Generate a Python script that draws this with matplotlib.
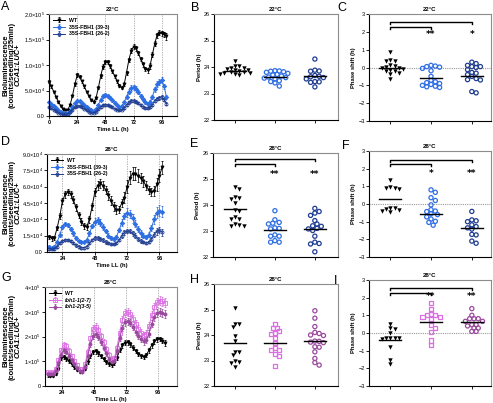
import numpy as np
import matplotlib.pyplot as plt

plt.rcParams['font.family'] = ['Liberation Sans', 'DejaVu Sans']
plt.rcParams['mathtext.fontset'] = 'custom'
plt.rcParams['mathtext.rm'] = 'Liberation Sans'
plt.rcParams['mathtext.bf'] = 'Liberation Sans:bold'

# ---------------- data ----------------
# time courses (values in units of 1e3 counts)
A_time = list(range(0, 101, 2))
A_wt = [67, 58, 48, 38, 28, 20, 14, 11, 12, 22, 40, 62, 80, 77, 68, 58, 48, 39, 31, 28,
        35, 55, 78, 97, 106, 105, 98, 88, 78, 68, 59, 55, 62, 85, 110, 128, 136, 133, 124, 112,
        101, 93, 90, 98, 120, 142, 158, 163, 162, 160, 156]
A_39 = [27, 24, 20, 16, 12, 8, 6, 5, 6, 10, 17, 25, 30, 29, 26, 22, 18, 14, 11, 10,
        13, 22, 32, 39, 41, 40, 36, 31, 26, 21, 18, 19, 27, 38, 48, 55, 56, 53, 47, 40,
        33, 27, 24, 28, 38, 52, 62, 66, 70, 58, 38]
A_26 = [17, 15, 12, 9, 6, 4, 3, 3, 4, 7, 12, 17, 20, 19, 17, 14, 11, 8, 6, 6,
        8, 13, 18, 21, 22, 21, 19, 17, 14, 12, 11, 12, 16, 22, 27, 30, 30, 28, 25, 21,
        18, 16, 15, 17, 22, 30, 34, 36, 38, 32, 24]
A_wt_err = [3, 3, 2, 2, 2, 2, 1, 1, 1, 2, 2, 3, 4, 3, 3, 3, 2, 2, 2, 2,
            2, 3, 4, 4, 4, 4, 4, 3, 3, 3, 3, 3, 3, 4, 4, 5, 5, 5, 4, 4,
            4, 4, 5, 5, 5, 5, 5, 5, 5, 5, 6]
A_39_err = [2, 2, 2, 1, 1, 1, 1, 1, 1, 1, 2, 2, 3, 3, 2, 2, 2, 2, 1, 1,
            2, 2, 3, 4, 4, 4, 3, 3, 3, 2, 2, 2, 3, 4, 5, 5, 5, 5, 4, 4,
            3, 3, 3, 3, 4, 5, 6, 6, 6, 5, 4]
A_26_err = [1, 1, 1, 1, 1, 1, 1, 1, 1, 1, 1, 1, 2, 2, 2, 1, 1, 1, 1, 1,
            1, 1, 2, 2, 2, 2, 2, 2, 1, 1, 1, 1, 2, 2, 3, 3, 3, 3, 2, 2,
            2, 2, 2, 2, 2, 3, 3, 4, 4, 3, 3]

D_time = list(range(14, 99, 2))
D_wt = [14, 12.5, 13, 22, 33, 47, 53, 55, 53, 48, 41, 34, 28, 24, 23, 30, 42, 55, 61, 63,
        61, 57, 52, 47, 42, 39, 39, 45, 50, 60, 68, 72, 72, 70, 68, 65, 61, 57, 55, 56,
        62, 70, 78]
D_39 = [5, 4, 5, 9, 16, 23, 26, 25, 21, 17, 13, 10, 9, 9, 11, 17, 24, 28, 29, 27,
        23, 19, 15, 13, 12, 14, 20, 27, 33, 36, 35, 31, 26, 21, 17, 15, 14, 16, 22, 30,
        36, 38, 37]
D_26 = [3, 2.5, 3, 5, 8, 10, 11, 11, 10, 8, 6, 5, 4, 4, 5, 8, 11, 13, 13, 12,
        11, 9, 8, 7, 7, 8, 11, 15, 18, 19, 19, 17, 15, 12, 10, 9, 8, 9, 12, 16,
        19, 20, 18]
D_wt_err = [2, 2, 2, 2, 3, 3, 3, 3, 3, 3, 3, 3, 3, 3, 3, 3, 3, 4, 4, 4,
            4, 4, 4, 4, 4, 4, 3, 4, 5, 6, 6, 6, 6, 6, 5, 5, 4, 4, 4, 5,
            6, 6, 6]
D_39_err = [1, 1, 1, 1, 2, 2, 2, 2, 2, 2, 2, 1, 1, 1, 1, 2, 2, 3, 3, 3,
            3, 2, 2, 2, 2, 2, 2, 3, 3, 4, 4, 4, 3, 3, 3, 2, 2, 2, 3, 4,
            5, 5, 5]
D_26_err = [1, 1, 1, 1, 1, 1, 1, 1, 1, 1, 1, 1, 1, 1, 1, 1, 1, 2, 2, 2,
            2, 2, 1, 1, 1, 1, 1, 2, 2, 2, 2, 2, 2, 2, 2, 1, 1, 1, 2, 2,
            3, 3, 3]

G_time = list(range(13, 102, 2))
G_wt = [43, 40, 40, 48, 70, 112, 118, 110, 100, 88, 75, 65, 58, 58, 70, 95, 122, 138, 140, 132,
        120, 108, 97, 88, 84, 92, 115, 145, 165, 175, 176, 168, 155, 142, 130, 122, 118, 125, 145, 165,
        180, 188, 190, 182, 174]
G_f1 = [55, 52, 55, 70, 105, 145, 165, 160, 142, 120, 100, 83, 70, 67, 88, 138, 192, 232, 240, 226,
        202, 176, 150, 126, 108, 112, 155, 215, 268, 294, 300, 292, 272, 252, 232, 216, 205, 210, 242, 285,
        318, 338, 345, 342, 336]
G_f2 = [50, 47, 50, 62, 92, 125, 145, 138, 122, 105, 88, 72, 60, 58, 78, 120, 168, 202, 210, 198,
        178, 155, 132, 110, 95, 102, 140, 192, 235, 258, 262, 255, 238, 220, 203, 190, 180, 185, 212, 252,
        280, 295, 300, 296, 290]
G_wt_err = [5, 5, 5, 5, 6, 8, 9, 9, 8, 7, 6, 6, 5, 5, 6, 7, 8, 9, 9, 9,
            8, 8, 7, 7, 7, 7, 8, 9, 10, 10, 10, 10, 9, 9, 9, 9, 9, 9, 10, 10,
            10, 10, 10, 10, 12]
G_f1_err = [6, 6, 6, 6, 8, 10, 12, 12, 11, 10, 9, 8, 7, 7, 8, 10, 12, 14, 14, 14,
            13, 12, 11, 10, 10, 10, 12, 14, 15, 16, 16, 16, 15, 15, 15, 15, 15, 15, 16, 18,
            18, 18, 18, 18, 18]
G_f2_err = [5, 5, 5, 5, 7, 9, 10, 10, 10, 9, 8, 7, 6, 6, 7, 9, 11, 12, 12, 12,
            11, 10, 10, 9, 9, 9, 11, 12, 13, 14, 14, 14, 13, 13, 13, 13, 13, 13, 14, 15,
            16, 16, 16, 16, 16]

A_yticks = [0, 5e4, 1e5, 1.5e5, 2e5]
A_ylabels = ['0.0', r'$5.0{\times}10^4$', r'$1.0{\times}10^5$', r'$1.5{\times}10^5$', r'$2.0{\times}10^5$']
D_yticks = [0, 1.5e4, 3e4, 4.5e4, 6e4, 7.5e4, 9e4]
D_ylabels = ['0.0', r'$1.5{\times}10^4$', r'$3.0{\times}10^4$', r'$4.5{\times}10^4$',
             r'$6.0{\times}10^4$', r'$7.5{\times}10^4$', r'$9.0{\times}10^4$']
G_yticks = [0, 1e5, 2e5, 3e5, 4e5]
G_ylabels = ['0', r'$1{\times}10^5$', r'$2{\times}10^5$', r'$3{\times}10^5$', r'$4{\times}10^5$']

# period / phase scatter data
B_wt = [24.22, 24.04, 24.02, 23.98, 23.95, 23.92, 23.9, 23.88, 23.85, 23.83, 23.8, 23.78, 23.76, 23.74, 23.72, 23.7]
B_39 = [23.86, 23.85, 23.84, 23.82, 23.8, 23.76, 23.72, 23.7, 23.66, 23.62, 23.6, 23.58, 23.55, 23.48, 23.45, 23.4, 23.28]
B_26 = [24.3, 23.88, 23.85, 23.84, 23.68, 23.65, 23.63, 23.6, 23.55, 23.45, 23.44, 23.42, 23.25]
B_mean = [23.86, 23.64, 23.66]

C_wt = [0.85, 0.38, 0.35, 0.4, 0.12, 0.08, 0.02, 0.0, -0.05, -0.08, -0.12, -0.18, -0.22, -0.3, -0.38, -0.65]
C_39 = [0.12, 0.08, 0.05, 0.02, -0.05, -0.18, -0.5, -0.72, -0.8, -0.85, -0.9, -0.95, -1.0, -1.05, -1.08, -1.12]
C_26 = [0.3, 0.22, 0.12, 0.05, 0.05, 0.0, -0.12, -0.28, -0.32, -0.4, -0.5, -0.62, -0.68, -0.7, -1.35, -1.42]
C_mean = [-0.02, -0.58, -0.45]

E_wt = [24.7, 24.63, 24.31, 24.28, 24.25, 24.09, 23.82, 23.78, 23.52, 23.48, 23.46, 23.27, 23.22, 23.2, 23.18]
E_39 = [23.78, 23.43, 23.33, 23.3, 23.27, 23.12, 23.1, 23.08, 22.85, 22.8, 22.8, 22.63, 22.57, 22.57]
E_26 = [23.87, 23.75, 23.69, 23.6, 23.4, 23.27, 23.18, 23.2, 23.1, 23.08, 23.02, 22.8, 22.57, 22.52, 22.5, 22.2]
E_mean = [23.86, 23.05, 23.06]

F_wt = [1.35, 0.95, 0.88, 0.88, 0.85, -0.2, -0.25, -0.3, -0.35, -0.4, -0.45]
F_39 = [0.8, 0.66, 0.36, 0.2, -0.05, -0.32, -0.4, -0.43, -0.55, -0.6, -0.73, -0.85, -0.98, -1.04, -1.2]
F_26 = [-0.42, -0.9, -0.95, -1.0, -1.18, -1.28, -1.35, -1.42, -1.72, -1.75, -2.1, -2.22]
F_mean = [0.3, -0.55, -1.38]

H_wt = [25.05, 24.45, 24.42, 24.3, 23.95, 23.78, 23.35, 23.32, 23.2, 22.98, 22.95, 22.92, 22.75]
H_f1 = [24.42, 24.29, 24.26, 24.15, 24.07, 24.03, 23.87, 23.7, 23.5, 23.41, 23.4, 23.24, 23.18, 22.8]
H_f2 = [24.95, 24.66, 24.33, 24.1, 24.06, 24.0, 23.98, 23.76, 23.75, 23.72, 23.7, 23.54, 23.52, 23.34, 23.08, 22.92, 22.82]
H_mean = [23.67, 23.7, 23.76]

I_wt = [0.51, 0.28, 0.2, 0.02, -0.27, -0.28, -0.28, -0.3, -0.32, -0.8, -1.5, -1.76]
I_f1 = [1.72, 1.34, 1.08, 1.0, 1.0, 0.91, 0.91, 0.81, 0.44, 0.28, 0.06, -0.42, -0.66]
I_f2 = [1.38, 1.0, 0.81, 0.81, 0.81, 0.66, 0.66, 0.47, 0.47, 0.4, 0.28, 0.28, 0.09, 0.09]
I_mean = [-0.42, 0.65, 0.62]

# significance brackets: (inner y, outer y, star y, labels)
C_sig = (2.29, 2.57, 1.85, ['**', '*'])
E_sig = (25.59, 25.77, 25.17, ['**', '**'])
F_sig = (2.25, 2.5, 1.75, ['*', '**'])
I_sig = (2.28, 2.56, 2.05, ['**', '**'])

labels_35S = ['WT', '35S-FBH1 (39-3)', '35S-FBH1 (26-2)']
labels_fbh = ['WT', 'fbh1-1(2-7)', 'fbh1-2(3-5)']

BLACK = 'black'
BLUE = '#2f6fe4'
NAVY = '#1f3d91'
MAG = '#dc6ee4'
PURP = '#9a4a9e'
GREY = '#8c8c8c'

# ---------------- layout ----------------
W, H = 493, 403
fig = plt.figure(figsize=(W / 100, H / 100), dpi=100)


def box(l, t, r, b):
    return fig.add_axes([l / W, 1 - b / H, (r - l) / W, (b - t) / H])


def style(ax):
    for s in ['left', 'bottom']:
        ax.spines[s].set_linewidth(0.8)
    for s in ['top', 'right']:
        ax.spines[s].set_color(GREY)
        ax.spines[s].set_linewidth(0.8)
    ax.tick_params(length=2, width=0.6, labelsize=4, pad=1)


def timecourse(ax, t, series, xlim, ylim, yticks, ylabels, xticks, title, labels, fmt):
    style(ax)
    for x in [24, 48, 72, 96]:
        ax.axvline(x, color='#9a9a9a', ls=(0, (2, 1.5)), lw=0.5, zorder=0)
    for (y, e), lab, (c, m, mfc) in zip(series, labels, fmt):
        ax.errorbar(t, np.array(y) * 1e3, yerr=np.array(e) * 1e3, color=c, marker=m, ms=2.2,
                    mfc=mfc, mec=c, mew=0.6, lw=0.7, elinewidth=0.5, capsize=1, capthick=0.5,
                    label=lab, clip_on=False)
    ax.set_xlim(*xlim)
    ax.set_ylim(*ylim)
    ax.set_yticks(yticks)
    ax.set_yticklabels(ylabels)
    ax.set_xticks(xticks)
    ax.set_xticklabels([str(x) for x in xticks], weight='bold')
    ax.set_xlabel('Time LL (h)', fontsize=4.2, weight='bold', labelpad=1)
    ax.set_title(title, fontsize=4.3, weight='bold', pad=2)
    leg = ax.legend(loc='upper left', frameon=False, prop={'size': 3.8, 'weight': 'bold'},
                    handlelength=2.4, borderaxespad=0.3, labelspacing=0.35, handletextpad=0.6)
    return leg


def ylab3(ax, xs):
    bb = ax.get_position()
    yc = (bb.y0 + bb.y1) / 2
    fig.text(xs[0] / W, yc, 'Bioluminescence', rotation=90, ha='center', va='center',
             fontsize=5.4, weight='bold')
    fig.text(xs[1] / W, yc, '(counts/seedling/25min)', rotation=90, ha='center', va='center',
             fontsize=5.4, weight='bold')
    fig.text(xs[2] / W, yc, 'CCA1:LUC+', rotation=90, ha='center', va='center',
             fontsize=5.4, weight='bold', style='italic')


def swarm(vals, ax, d=3.9):
    # simple beeswarm so that overlapping points spread sideways
    x0, x1 = ax.get_xlim()
    y0, y1 = ax.get_ylim()
    kx = ax.bbox.width / (x1 - x0)
    ky = ax.bbox.height / (y1 - y0)
    vals = np.asarray(vals, float)
    offs = np.zeros(len(vals))
    placed = []
    step = d * 0.55
    for i in np.argsort(-vals):
        py = vals[i] * ky
        for k in range(40):
            cand = ((k + 1) // 2) * step * (1 if k % 2 else -1)
            if all((cand - px) ** 2 + (py - qy) ** 2 >= d * d for px, qy in placed):
                break
        placed.append((cand, py))
        offs[i] = cand / kx
    return offs


def dotplot(ax, groups, means, fmt, xlim, ylim, yticks, ylabel, title, zero=False, sig=None):
    style(ax)
    ax.set_xlim(*xlim)
    ax.set_ylim(*ylim)
    if zero:
        ax.axhline(0, color='#9a9a9a', ls=(0, (1, 1)), lw=0.8, zorder=0)
    for i, (vals, (c, m, filled)) in enumerate(zip(groups, fmt)):
        xs = i + swarm(vals, ax)
        if filled:
            ax.scatter(xs, vals, s=10, marker=m, color=c, linewidths=0, zorder=3)
        else:
            ax.scatter(xs, vals, s=9, marker=m, facecolors='none', edgecolors=c,
                       linewidths=0.9, zorder=3)
        ax.plot([i - 0.27, i + 0.27], [means[i], means[i]], color='black', lw=1.0, zorder=4)
    ax.set_xticks([0, 1, 2])
    ax.set_xticklabels([])
    ax.set_yticks(yticks)
    ax.set_ylabel(ylabel, fontsize=4.2, weight='bold', labelpad=1.5)
    ax.set_title(title, fontsize=4.3, weight='bold', pad=2)
    if sig is not None:
        inner, outer, star_y, stars = sig
        dr = (ylim[1] - ylim[0]) * 0.02
        ax.plot([0, 0, 1, 1], [inner - dr, inner, inner, inner - dr], color='black', lw=1.0, clip_on=False)
        ax.plot([0, 0, 2, 2], [outer - dr, outer, outer, outer - dr], color='black', lw=1.0, clip_on=False)
        for j, s in enumerate(stars):
            ax.text(j + 1, star_y, s, ha='center', va='center', fontsize=6.5, weight='bold',
                    family='DejaVu Sans')


fmt35 = [(BLACK, 'v', BLACK), (BLUE, 'D', BLUE), (NAVY, 'o', 'none')]
fmtfb = [(BLACK, 'v', BLACK), (MAG, 's', 'none'), (PURP, 'o', PURP)]
dot35 = [(BLACK, 'v', True), (BLUE, 'o', False), (NAVY, 'o', False)]
dotfb = [(BLACK, 'v', True), (MAG, 's', False), (PURP, 'o', False)]

# row 1 : 22 C
axA = box(49, 14, 177, 116)
timecourse(axA, A_time, [(A_wt, A_wt_err), (A_39, A_39_err), (A_26, A_26_err)],
           (0, 109), (0, 2e5), A_yticks, A_ylabels, [0, 24, 48, 72, 96], '22°C', labels_35S, fmt35)
ylab3(axA, [6, 12, 18])

axB = box(214, 14, 338, 120)
dotplot(axB, [B_wt, B_39, B_26], B_mean, dot35, (-0.53, 2.58), (22, 26), [22, 23, 24, 25, 26],
        'Period (h)', '22°C')

axC = box(369, 14, 491, 121)
dotplot(axC, [C_wt, C_39, C_26], C_mean, dot35, (-0.52, 2.47), (-3, 3), [-3, -2, -1, 0, 1, 2, 3],
        'Phase shift (h)', '22°C', zero=True, sig=C_sig)

# row 2 : 28 C, FBH1 overexpressors
axD = box(47, 154, 177, 252)
timecourse(axD, D_time, [(D_wt, D_wt_err), (D_39, D_39_err), (D_26, D_26_err)],
           (12.5, 109), (0, 9e4), D_yticks, D_ylabels, [24, 48, 72, 96], '28°C', labels_35S, fmt35)
ylab3(axD, [6, 12, 18])

axE = box(213, 153, 338, 257)
dotplot(axE, [E_wt, E_39, E_26], E_mean, dot35, (-0.55, 2.58), (22, 26), [22, 23, 24, 25, 26],
        'Period (h)', '28°C', sig=E_sig)

axF = box(369, 151, 491, 257)
dotplot(axF, [F_wt, F_39, F_26], F_mean, dot35, (-0.52, 2.47), (-3, 3), [-3, -2, -1, 0, 1, 2, 3],
        'Phase shift (h)', '28°C', zero=True, sig=F_sig)

# row 3 : 28 C, fbh1 mutants
axG = box(45, 287, 177, 386)
legG = timecourse(axG, G_time, [(G_wt, G_wt_err), (G_f1, G_f1_err), (G_f2, G_f2_err)],
                  (11, 110), (0, 4e5), G_yticks, G_ylabels, [24, 48, 72, 96], '28°C', labels_fbh, fmtfb)
for txt in legG.get_texts()[1:]:
    txt.set_style('italic')
ylab3(axG, [6, 12, 18])

axH = box(214, 284, 338, 386)
dotplot(axH, [H_wt, H_f1, H_f2], H_mean, dotfb, (-0.53, 2.58), (22, 26), [22, 23, 24, 25, 26],
        'Period (h)', '28°C')

axI = box(369, 280, 491, 386)
dotplot(axI, [I_wt, I_f1, I_f2], I_mean, dotfb, (-0.52, 2.47), (-3, 3), [-3, -2, -1, 0, 1, 2, 3],
        'Phase shift (h)', '28°C', zero=True, sig=I_sig)

# panel letters
for letter, (x, y) in zip('ABCDEFGHI', [(1, 1), (191, 2), (337, 2), (1, 136), (190, 138),
                                        (342, 140), (1, 272), (190, 274), (334, 275)]):
    fig.text(x / W, 1 - y / H, letter, fontsize=9, ha='left', va='top')

fig.savefig('out.png', dpi=100)
